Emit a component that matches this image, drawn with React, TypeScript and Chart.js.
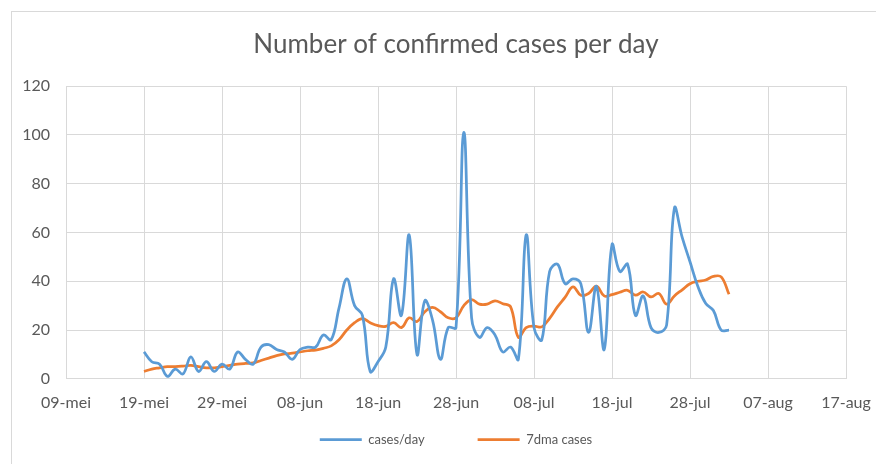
import React, { useEffect, useRef } from 'react';
import { Chart, registerables } from 'chart.js';

Chart.register(...registerables);

const TITLE = 'Number of confirmed cases per day';
const TICK_LABELS = ['09-mei', '19-mei', '29-mei', '08-jun', '18-jun', '28-jun', '08-jul', '18-jul', '28-jul', '07-aug', '17-aug'];
const SERIES_NAMES = ['cases/day', '7dma cases'];
// first data point is 19-mei, i.e. 10 days after 09-mei (axis origin)
const FIRST_DATA_DAY = 10;

const CASES_PER_DAY = [
  11, 7, 6, 1, 4, 2, 9, 3, 7, 3,
  6, 4, 11, 8, 6, 13, 14, 12, 11, 8,
  12, 13, 13, 18, 16, 29, 41, 30, 26, 3,
  7, 13, 41, 26, 59, 10, 32, 24, 8, 21,
  21, 101, 25, 17, 21, 18, 11, 13, 8, 59,
  21, 16, 44, 47, 39, 41, 39, 19, 38, 12,
  55, 44, 47, 26, 34, 21, 19, 22, 70, 58,
  48, 38, 31, 28, 20, 20,
];

const DMA7_CASES = [
  3, 4, 4.5, 5, 5, 5.2, 5.5, 5, 4.5, 4.5,
  5, 5.5, 6, 6.3, 6.5, 7.5, 8.5, 9.5, 10.2, 10.5,
  11, 11.5, 11.8, 12.5, 13.5, 16, 20, 23, 24.7, 23,
  21.8, 21.5, 23, 21, 25, 23.5, 27.5, 29.3, 27.5, 25,
  25, 30, 32.5, 30.6, 30.6, 32, 30.8, 29.5, 17, 21,
  21.6, 21.3, 24.8, 29.5, 33.5, 37.7, 34.3, 35, 38, 34,
  34.5, 35.5, 36.3, 34.3, 35.6, 33.6, 35, 30.6, 34, 36.5,
  39, 40, 40.5, 42, 41.8, 34.7,
];

const FONT = 'Lato, "Open Sans", sans-serif';
const TEXT_COLOR = '#595959';
const GRID_COLOR = '#d9d9d9';

const toPoints = (vals: number[]) => vals.map((y, i) => ({ x: FIRST_DATA_DAY + i, y }));

const borderPlugin = {
  id: 'outerBorder',
  beforeDraw(chart: any) {
    const ctx = chart.ctx;
    ctx.save();
    ctx.fillStyle = '#ffffff';
    ctx.fillRect(0, 0, chart.width, chart.height);
    ctx.strokeStyle = GRID_COLOR;
    ctx.lineWidth = 1;
    ctx.strokeRect(11.5, 11.5, chart.width + 40, chart.height + 40);
    ctx.restore();
  },
};

export default function App() {
  const ref = useRef<HTMLCanvasElement | null>(null);

  useEffect(() => {
    document.body.style.margin = '0';
    if (!ref.current) return;
    const chart = new Chart(ref.current, {
      type: 'line',
      data: {
        datasets: [
          {
            label: SERIES_NAMES[0],
            data: toPoints(CASES_PER_DAY),
            borderColor: '#5B9BD5',
            backgroundColor: '#5B9BD5',
            borderWidth: 2.75,
            pointRadius: 0,
            tension: 0.4,
            fill: false,
          },
          {
            label: SERIES_NAMES[1],
            data: toPoints(DMA7_CASES),
            borderColor: '#ED7D31',
            backgroundColor: '#ED7D31',
            borderWidth: 2.75,
            pointRadius: 0,
            tension: 0.4,
            fill: false,
          },
        ],
      },
      options: {
        animation: false,
        responsive: false,
        maintainAspectRatio: false,
        layout: { padding: { left: 0, right: 30, top: 0, bottom: 8 } },
        plugins: {
          title: {
            display: true,
            fullSize: false,
            text: TITLE,
            color: TEXT_COLOR,
            font: { family: FONT, size: 26, weight: 'normal', lineHeight: 1.2 },
            padding: { top: 29, bottom: 26 },
          },
          legend: {
            position: 'bottom',
            fullSize: false,
            title: {
              display: true,
              text: '',
              font: { size: 10, lineHeight: 1 },
              padding: { top: -56, bottom: 0 },
            },
            labels: {
              usePointStyle: true,
              pointStyle: 'line',
              pointStyleWidth: 42,
              boxHeight: 13,
              color: TEXT_COLOR,
              font: { family: FONT, size: 13 },
              padding: 53,
            },
          },
          tooltip: { enabled: false },
        },
        scales: {
          x: {
            type: 'linear',
            min: 0,
            max: 100,
            ticks: {
              stepSize: 10,
              autoSkip: false,
              maxRotation: 0,
              color: TEXT_COLOR,
              font: { family: FONT, size: 16 },
              padding: 14,
              callback: (v: any) => TICK_LABELS[Math.round(Number(v) / 10)],
            },
            grid: { color: GRID_COLOR, drawTicks: false },
            border: { color: GRID_COLOR },
            afterFit: (s: any) => {
              s.paddingLeft = 0;
              s.paddingRight = 0;
            },
          },
          y: {
            min: 0,
            max: 120,
            ticks: {
              stepSize: 20,
              color: TEXT_COLOR,
              font: { family: FONT, size: 16 },
              padding: 16,
            },
            grid: { color: GRID_COLOR, drawTicks: false },
            border: { display: false },
            afterFit: (s: any) => {
              s.width = 66;
            },
          },
        },
      },
      plugins: [borderPlugin],
    });
    return () => chart.destroy();
  }, []);

  return (
    <div style={{ position: 'absolute', left: 0, top: 0, width: 876, height: 464 }}>
      <canvas ref={ref} width={876} height={464} />
    </div>
  );
}
